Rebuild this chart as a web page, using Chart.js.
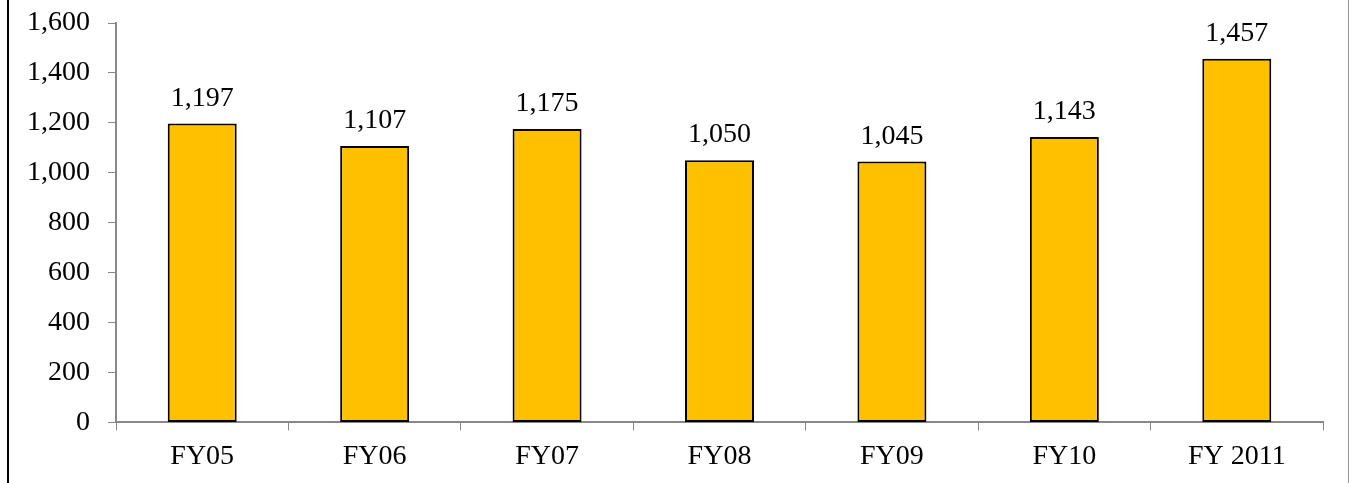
<!DOCTYPE html>
<html>
<head>
<meta charset="utf-8">
<script src="https://cdn.jsdelivr.net/npm/chart.js@4.4.1/dist/chart.umd.min.js"></script>
<style>
  html, body { margin: 0; padding: 0; background: #fff; }
  #wrap { position: relative; width: 1352px; height: 483px; }
  #frame { position: absolute; left: 7px; top: -2px; width: 1342px; height: 490px;
           border-left: 2px solid #000; border-right: 1px solid #999; box-sizing: border-box; }
  canvas { position: absolute; left: 0; top: 0; }
</style>
</head>
<body>
<div id="wrap">
  <div id="frame"></div>
  <canvas id="meu-grafico" width="1352" height="483"></canvas>
</div>
<script>
const categories = ["FY05", "FY06", "FY07", "FY08", "FY09", "FY10", "FY 2011"];
const values = [1197, 1107, 1175, 1050, 1045, 1143, 1457];
const yTicks = [0, 200, 400, 600, 800, 1000, 1200, 1400, 1600];

const fonte = "'Liberation Serif', 'Times New Roman', serif";

// rotulos em cima das barras
const rotulos = {
  id: "rotulos",
  afterDatasetsDraw(chart) {
    const ctx = chart.ctx;
    const meta = chart.getDatasetMeta(0);
    ctx.save();
    ctx.font = "28px " + fonte;
    ctx.fillStyle = "#000";
    ctx.textAlign = "center";
    ctx.textBaseline = "alphabetic";
    meta.data.forEach((bar, i) => {
      ctx.fillText(values[i].toLocaleString("en-US"), bar.x, bar.y - 18);
    });
    ctx.restore();
  }
};

const local = document.querySelector("#meu-grafico");

new Chart(local, {
  type: "bar",
  data: {
    labels: categories,
    datasets: [{
      data: values,
      backgroundColor: "#FFC000",
      borderColor: "#000",
      borderWidth: 2,
      borderSkipped: false,
      categoryPercentage: 1,
      barPercentage: 0.4
    }]
  },
  options: {
    responsive: false,
    animation: false,
    layout: { padding: { top: 23, right: 29, bottom: 1, left: 0 } },
    plugins: { legend: { display: false }, tooltip: { enabled: false } },
    scales: {
      x: {
        grid: { drawOnChartArea: false, drawTicks: true, tickLength: 8, color: "#888", offset: true },
        border: { display: true, color: "#888", width: 2 },
        ticks: { color: "#000", font: { family: fonte, size: 28 }, padding: 9 }
      },
      y: {
        min: 0,
        max: 1600,
        afterFit(scale) {
          scale.width = 116;
          scale.paddingTop = 0;
          scale.paddingBottom = 0;
        },
        afterBuildTicks(scale) { scale.ticks = yTicks.map(v => ({ value: v })); },
        grid: { drawOnChartArea: false, drawTicks: true, tickLength: 8, color: "#888" },
        border: { display: true, color: "#888", width: 2 },
        ticks: {
          color: "#000",
          font: { family: fonte, size: 28 },
          padding: 18,
          callback: v => v.toLocaleString("en-US")
        }
      }
    }
  },
  plugins: [rotulos]
});
</script>
</body>
</html>
